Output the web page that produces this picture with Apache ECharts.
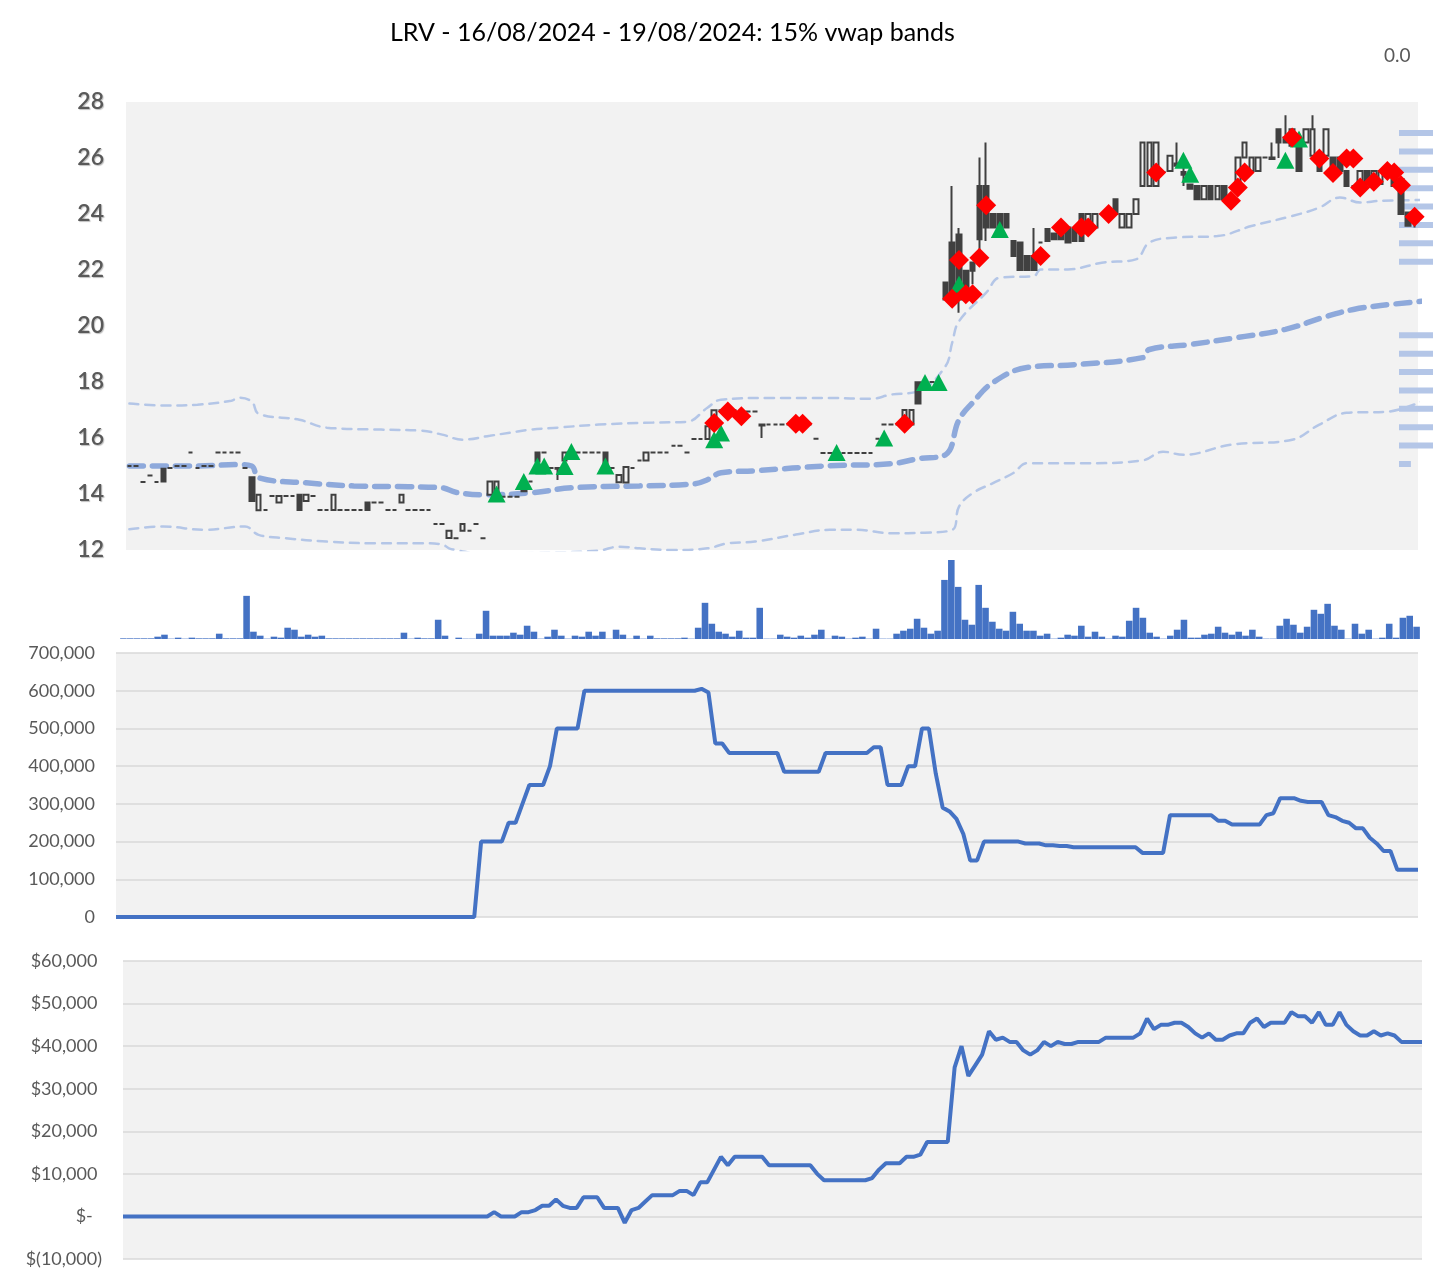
<!DOCTYPE html>
<html><head><meta charset="utf-8">
<script src="https://cdn.jsdelivr.net/npm/echarts@6/dist/echarts.min.js"></script>
<style>html,body{margin:0;padding:0;background:#fff}#c{width:1433px;height:1286px}</style>
</head><body><div id="c"></div><script>
// ---------- DATA ----------
const D = v => [v, v, v, v];            // doji: open=close=low=high
const U = (lo, hi) => [lo, hi, lo, hi];  // rising (hollow) candle
const F = (hi, lo) => [hi, lo, lo, hi];  // falling (filled) candle

const candles = [
D(15.0),D(15.0),D(14.43),D(14.66),D(14.43),F(14.9,14.45),D(14.93),D(15.0),D(15.0),D(15.48),
D(14.93),D(15.0),D(15.0),D(15.48),D(15.48),D(15.48),D(15.48),D(14.93),F(14.6,13.75),U(13.42,13.97),
D(13.43),D(13.93),U(13.7,13.93),D(13.93),D(13.93),F(13.97,13.43),U(13.75,13.97),D(13.93),D(13.43),D(13.43),
U(13.43,13.97),D(13.43),D(13.43),D(13.43),D(13.43),F(13.7,13.43),D(13.7),D(13.7),D(13.43),D(13.43),
U(13.7,13.97),D(13.43),D(13.43),D(13.43),D(13.43),D(12.93),D(12.93),U(12.43,12.69),D(12.42),U(12.69,12.93),
D(12.69),D(12.93),D(12.42),U(13.97,14.45),U(14.1,14.45),D(13.9),D(13.9),D(13.9),F(14.27,14.1),D(14.45),
F(15.48,15.16),D(15.48),D(14.93),[14.93,14.9,14.5,14.93],U(15.2,15.48),D(15.48),D(15.48),D(15.48),D(15.48),D(15.48),
F(15.48,14.98),D(14.93),U(14.42,14.68),U(14.41,14.96),D(14.93),D(15.2),U(15.2,15.48),D(15.48),D(15.48),D(15.48),
D(15.72),D(15.72),D(15.48),D(15.96),D(15.96),U(15.96,16.42),U(16.42,16.99),D(16.99),D(16.99),D(16.99),
D(16.99),D(16.95),D(16.95),[16.48,16.45,16.0,16.48],D(16.48),D(16.48),D(16.48),D(16.48),D(16.48),D(16.48),
D(16.48),D(15.97),D(15.46),D(15.46),D(15.46),D(15.46),D(15.46),D(15.46),D(15.46),D(15.46),
D(15.97),D(16.48),D(16.48),D(16.48),U(16.48,17.0),U(16.48,17.0),F(17.99,17.23),D(17.99),D(18.0),D(17.99),
F(21.55,20.95),[22.98,20.95,20.7,25.0],[23.27,20.95,20.47,23.5],F(21.97,20.95),[22.27,21.97,21.49,22.27],[25.0,23.1,22.26,26.02],[25.0,23.52,23.04,26.55],F(24.0,23.52),F(24.0,23.52),F(24.0,23.52),
F(23.04,22.5),F(22.98,22.0),F(22.5,22.0),[22.5,22.0,22.0,23.5],D(22.98),F(23.46,23.04),F(23.3,23.1),F(23.3,23.1),F(23.52,22.98),F(23.46,23.04),
F(24.0,23.04),U(23.52,24.0),U(23.52,24.0),D(24.0),D(24.0),F(24.53,24.0),U(23.52,24.0),U(23.52,24.0),U(24.0,24.53),U(25.0,26.55),
U(25.0,26.55),U(25.0,26.55),D(25.5),U(25.54,26.08),[25.8,25.72,25.72,26.55],[25.5,25.4,25.0,25.72],F(25.05,24.9),F(25.0,24.53),U(24.53,25.0),F(25.0,24.53),
U(24.53,25.0),F(25.0,24.53),D(24.5),U(25.0,26.02),U(26.02,26.55),U(25.54,26.02),U(25.54,26.02),D(26.02),[26.02,25.96,25.96,26.55],[27.03,26.55,26.0,27.03],
[26.73,26.55,26.55,27.53],U(26.44,27.03),F(26.55,25.54),U(26.55,27.03),[26.08,27.03,26.08,27.53],F(26.08,25.54),U(26.08,27.03),F(26.02,25.54),F(26.02,25.54),F(25.54,25.0),
D(25.0),U(25.07,25.54),F(25.54,25.07),U(25.07,25.54),U(25.07,25.54),D(25.5),F(25.25,25.0),F(25.25,24.0),F(24.05,23.58),[23.95,23.9,23.52,24.0]
];
const N = candles.length;
const cats = candles.map((_, i) => i);

// vwap and bands: [candle index, price]
const vwap = [[0,15.0],[10,15.0],[16,15.05],[18,15.0],[19,14.58],[26,14.40],[33,14.29],[41,14.26],[46,14.22],[48,14.06],[52,13.97],[58.5,14.04],[65,14.22],[75,14.29],[83,14.36],[85,14.51],[87.3,14.76],[92,14.83],[102.6,15.01],[112,15.08],[116,15.26],[120,15.40],[122,16.65],[124,17.26],[127,17.98],[132,18.52],[139,18.62],[148.6,18.87],[150,19.16],[156,19.34],[163,19.59],[169.6,19.88],[175.5,20.34],[179.5,20.59],[184.4,20.73],[189.5,20.88]];
const upperBand = [[0,17.23],[4.5,17.16],[10.4,17.19],[14.8,17.33],[16.3,17.44],[17.7,17.30],[19.2,16.87],[25,16.65],[29.3,16.37],[36.8,16.30],[42.7,16.26],[45.7,16.12],[48.6,15.94],[53,16.08],[55.9,16.19],[58.9,16.30],[63.3,16.37],[69.2,16.48],[76.6,16.55],[82.4,16.58],[84.9,17.08],[87.3,17.37],[94.2,17.43],[102.6,17.43],[108.9,17.40],[112.3,17.55],[115.8,17.67],[120.2,18.56],[121.1,19.41],[122.1,20.17],[125.5,21.19],[128,21.73],[132.9,21.78],[134.4,22.02],[137.9,22.02],[142.7,22.26],[147.6,22.38],[149.6,22.98],[153.5,23.16],[159.9,23.21],[164.8,23.57],[170.6,23.93],[174.6,24.23],[177.6,24.59],[180.5,24.41],[184.4,24.47],[189.5,24.50]];
const lowerBand = [[0,12.74],[4.5,12.84],[10.8,12.72],[17.3,12.84],[19.2,12.54],[23.2,12.42],[29,12.30],[35.8,12.24],[42.7,12.24],[45.7,12.2],[46.9,12.06],[48.2,12.0],[51.6,11.85],[60.4,11.9],[69.2,11.98],[72.1,12.12],[75.1,12.06],[79.9,12.0],[84.9,12.06],[88.3,12.24],[92.3,12.30],[97.6,12.55],[102.6,12.72],[107.4,12.72],[112.3,12.6],[117.3,12.62],[120.7,12.72],[122.1,13.55],[124.1,14.03],[126.6,14.39],[129.5,14.75],[132.4,15.1],[141.3,15.1],[148.6,15.2],[151.5,15.51],[155.2,15.40],[161.8,15.76],[170.6,15.94],[175.1,16.48],[178.8,16.90],[184.6,16.94],[189.5,17.30]];

const sellSignals = [[86,16.54],[88,16.95],[90,16.78],[98,16.51],[99,16.51],[114,16.51],[121,20.97],[122,22.36],[123,21.13],[124,21.13],[125,22.44],[126,24.31],[134,22.5],[137,23.52],[140,23.52],[141,23.52],[144,24.0],[151,25.48],[162,24.47],[163,24.95],[164,25.48],[171,26.73],[175,25.98],[177,25.46],[179,25.98],[180,25.98],[181,24.95],[183,25.15],[185,25.54],[186,25.48],[187,25.03],[189,23.9]];
const buySignals = [[54,14.0],[58,14.45],[60,15.0],[61,15.0],[64,14.98],[65,15.52],[70,15.0],[86,15.94],[87,16.18],[104,15.48],[111,16.0],[117,17.98],[119,17.98],[122,21.49],[128,23.45],[155,25.92],[156,25.42],[170,25.92],[172,26.68]];

const volume = [2,2,2,2,2,7,13,1,4,1,4,2,2,2,16,2,2,2,130,22,10,1,7,4,34,28,7,13,7,10,
2,2,2,2,2,2,2,2,2,2,2,19,1,4,2,2,58,10,0,4,1,1,16,85,10,10,10,19,13,40,
22,1,7,28,10,1,10,7,22,10,22,1,28,13,1,10,1,10,2,2,2,2,4,1,34,109,46,22,16,7,
25,4,4,94,1,1,13,7,4,10,4,13,28,1,10,7,1,4,7,1,31,1,1,16,25,31,61,34,16,25,
178,238,157,58,43,163,94,52,31,25,82,46,25,25,10,16,1,4,13,10,40,7,22,7,1,10,
7,55,94,64,19,7,1,10,28,58,4,4,13,16,37,19,13,22,10,28,7,1,1,40,61,43,19,37,88,76,
106,40,28,1,46,16,28,1,4,46,4,64,70,37];

const position = [
0,0,0,0,0,0,0,0,0,0,0,0,0,0,0,0,0,0,0,0,0,0,0,0,0,0,0,0,0,0,0,0,0,0,0,0,0,0,0,0,0,0,0,0,0,0,0,0,0,0,0,0,0,
200000,200000,200000,200000,250000,250000,300000,350000,350000,350000,400000,500000,500000,500000,500000,
600000,600000,600000,600000,600000,600000,600000,600000,600000,600000,600000,600000,600000,600000,600000,600000,600000,
605000,595000,460000,460000,435000,435000,435000,435000,435000,435000,435000,435000,
385000,385000,385000,385000,385000,385000,435000,435000,435000,435000,435000,435000,435000,
450000,450000,350000,350000,350000,400000,400000,500000,500000,380000,290000,280000,260000,220000,150000,150000,
200000,200000,200000,200000,200000,200000,195000,195000,195000,190000,190000,188000,188000,
185000,185000,185000,185000,185000,185000,185000,185000,185000,185000,170000,170000,170000,170000,
270000,270000,270000,270000,270000,270000,270000,255000,255000,245000,245000,245000,245000,245000,
270000,275000,315000,315000,315000,308000,305000,305000,305000,270000,265000,255000,250000,235000,235000,
210000,195000,175000,175000,125000,125000,125000,125000];

const pnl = [
0,0,0,0,0,0,0,0,0,0,0,0,0,0,0,0,0,0,0,0,0,0,0,0,0,0,0,0,0,0,0,0,0,0,0,0,0,0,0,0,0,0,0,0,0,0,0,0,0,0,0,0,0,0,
1000,0,0,0,1000,1000,1500,2500,2500,4000,2500,2000,2000,4500,4500,4500,2000,2000,2000,-1500,1500,2000,3500,
5000,5000,5000,5000,6000,6000,5000,8000,8000,11000,14000,12000,14000,14000,14000,14000,14000,
12000,12000,12000,12000,12000,12000,12000,10000,8500,8500,8500,8500,8500,8500,8500,9000,11000,12500,12500,12500,
14000,14000,14500,17500,17500,17500,17500,35000,40000,33000,35500,38000,43500,41500,42000,41000,41000,39000,38000,39000,
41000,40000,41000,40500,40500,41000,41000,41000,41000,42000,42000,42000,42000,42000,43000,46500,44000,45000,45000,45500,
45500,44500,43000,42000,43000,41500,41500,42500,43000,43000,45500,46500,44500,45500,45500,45500,48000,47000,47000,45500,
48000,45000,45000,48000,45000,43500,42500,42500,43500,42500,43000,42500,41000,41000,41000,41000];

// price-level bars at the right edge (bottom to top)
const profileLevels = ['15.08','15.72','16.37','17.01','17.69','18.34','18.98','19.66','20.30','20.98','21.64','22.30','22.95','23.60','24.28','24.92','25.60','26.25','26.93'];
const profileValues = [0.35,1,1,1,1,1,1,1,0,0,0,1,1,1,1,1,1,1,1];

const titleText = 'LRV - 16/08/2024 - 19/08/2024: 15% vwap bands';

// ---------- CHART ----------
const chart = echarts.init(document.getElementById('c'), null, {renderer: 'canvas'});
const FONT = 'Lato';
const labelStyle = {fontFamily: FONT, fontSize: 18, color: '#595959'};
const fmtMoney = v => v === 0 ? '$-  ' : (v < 0 ? '$(' + Math.abs(v).toLocaleString('en-US') + ')' : '$' + v.toLocaleString('en-US') + ' ');

chart.setOption({
  animation: false,
  backgroundColor: '#ffffff',
  title: {text: titleText, left: 385, top: 15, textStyle: {fontFamily: FONT, fontSize: 25, fontWeight: 'normal', color: '#000'}},
  graphic: [{type: 'text', left: 1384, top: 46, style: {text: '0.0', fontFamily: FONT, fontSize: 19, fill: '#595959'}}],
  grid: [
    {left: 126, top: 102, width: 1292, height: 448, show: true, backgroundColor: '#F2F2F2', borderWidth: 0},
    {left: 120, top: 560, width: 1300, height: 79},
    {left: 116, top: 653, width: 1302, height: 264, show: true, backgroundColor: '#F2F2F2', borderWidth: 0},
    {left: 123, top: 961, width: 1299, height: 298, show: true, backgroundColor: '#F2F2F2', borderWidth: 0},
    {left: 1399, top: 123.8, width: 34, height: 349.4}
  ],
  xAxis: [
    {type: 'category', data: cats, gridIndex: 0, boundaryGap: true, show: false},
    {type: 'category', data: cats, gridIndex: 1, boundaryGap: true, show: false},
    {type: 'category', data: cats, gridIndex: 2, boundaryGap: false, show: false},
    {type: 'category', data: cats, gridIndex: 3, boundaryGap: false, show: false},
    {type: 'value', gridIndex: 4, min: 0, max: 1, show: false}
  ],
  yAxis: [
    {type: 'value', gridIndex: 0, min: 12, max: 28, interval: 2, splitLine: {show: false}, axisLine: {show: false}, axisTick: {show: false},
     axisLabel: {fontFamily: FONT, fontSize: 23, fontWeight: 600, color: '#595959', margin: 22, textShadowColor: 'rgba(0,0,0,0.25)', textShadowOffsetX: 1, textShadowOffsetY: 1, textShadowBlur: 1}},
    {type: 'value', gridIndex: 1, min: 0, max: 238, show: false},
    {type: 'value', gridIndex: 2, min: 0, max: 700000, interval: 100000, axisLine: {show: false}, axisTick: {show: false},
     splitLine: {lineStyle: {color: '#D9D9D9', width: 1.5}},
     axisLabel: Object.assign({margin: 21, formatter: v => v.toLocaleString('en-US')}, labelStyle)},
    {type: 'value', gridIndex: 3, min: -10000, max: 60000, interval: 10000, axisLine: {show: false}, axisTick: {show: false},
     splitLine: {lineStyle: {color: '#D9D9D9', width: 1.5}},
     axisLabel: Object.assign({margin: 21, formatter: fmtMoney}, labelStyle)},
    {type: 'category', gridIndex: 4, data: profileLevels, show: false}
  ],
  series: [
    {type: 'line', name: 'upper', xAxisIndex: 0, yAxisIndex: 0, data: upperBand, symbol: 'none', smooth: 0.4, z: 2,
     lineStyle: {color: '#B4C6E7', width: 2.5, type: [9, 7], cap: 'round'}},
    {type: 'line', name: 'lower', xAxisIndex: 0, yAxisIndex: 0, data: lowerBand, symbol: 'none', smooth: 0.4, z: 2,
     lineStyle: {color: '#B4C6E7', width: 2.5, type: [9, 7], cap: 'round'}},
    {type: 'line', name: 'vwap', xAxisIndex: 0, yAxisIndex: 0, data: vwap, symbol: 'none', smooth: 0.4, z: 2,
     lineStyle: {color: '#8EA9DB', width: 5.5, type: [14, 9], cap: 'round'}},
    {type: 'candlestick', xAxisIndex: 0, yAxisIndex: 0, data: candles, barWidth: 5, z: 3,
     itemStyle: {color: '#F2F2F2', color0: '#404040', borderColor: '#404040', borderColor0: '#404040', borderWidth: 2}},
    {type: 'scatter', xAxisIndex: 0, yAxisIndex: 0, data: buySignals, symbol: 'triangle', symbolSize: [18, 17], z: 4,
     itemStyle: {color: '#00B050', opacity: 1}},
    {type: 'scatter', xAxisIndex: 0, yAxisIndex: 0, data: sellSignals, symbol: 'diamond', symbolSize: [20, 20], z: 5,
     itemStyle: {color: '#FF0000', opacity: 1}},
    {type: 'bar', xAxisIndex: 1, yAxisIndex: 1, data: volume, barCategoryGap: '4%', itemStyle: {color: '#4472C4'}},
    {type: 'line', xAxisIndex: 2, yAxisIndex: 2, data: position, symbol: 'none', lineStyle: {color: '#4472C4', width: 4}},
    {type: 'line', xAxisIndex: 3, yAxisIndex: 3, data: pnl, symbol: 'none', lineStyle: {color: '#4472C4', width: 4}},
    {type: 'bar', xAxisIndex: 4, yAxisIndex: 4, data: profileValues, barWidth: 6, itemStyle: {color: '#B4C6E7'}}
  ]
});
</script></body></html>
